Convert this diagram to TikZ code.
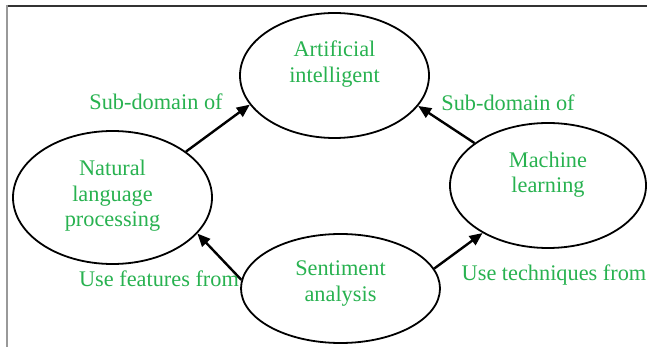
\documentclass[tikz,border=0pt]{standalone}
\usepackage{fontspec}
\setmainfont{Liberation Serif}
\usetikzlibrary{shapes.geometric,arrows.meta}
\definecolor{lbl}{RGB}{40,178,80}
\begin{document}
\begin{tikzpicture}[x=1pt,y=-1pt,
  oval/.style={draw=black,line width=1.8pt,ellipse,inner sep=0pt},
  txt/.style={text=lbl,font=\fontsize{22.3}{25.5}\selectfont,align=center,inner sep=0pt},
  arr/.style={line width=2.4pt,-{Triangle[length=13pt,width=11pt]}}]
\useasboundingbox (0,0) rectangle (647,347);
\fill[white] (0,0) rectangle (647,347);
\draw[line width=1.2pt,black!80] (6,6) -- (647,6);
\draw[line width=2pt,black!40] (7,5) -- (7,347);
% ellipses
\node[oval,minimum width=189pt,minimum height=125pt] (ai) at (334.5,75.5) {};
\node[oval,minimum width=199pt,minimum height=133pt] (nlp) at (112.5,197.5) {};
\node[oval,minimum width=196pt,minimum height=125pt] (ml) at (548,185.5) {};
\node[oval,minimum width=199pt,minimum height=109pt] (sa) at (340.5,288.5) {};
% texts
\node[txt] (ait) at (334.5,64) {Artificial\\intelligent};
\node[txt] (nlpt) at (112.5,196) {Natural\\language\\processing};
\node[txt] (mlt) at (548,174.5) {Machine\\learning};
\node[txt] (sat) at (340.5,283.5) {Sentiment\\analysis};
% labels
\node[txt] (l1) at (156,102) {Sub-domain of};
\node[txt] (l2) at (508,103) {Sub-domain of};
\node[txt] (l3) at (159,279) {Use features from};
\node[txt] (l4) at (554,275) {Use techniques from};
% arrows
\draw[arr] (nlp.32.5) -- (ai.199.2);
\draw[arr] (ml.150.1) -- (ai.340.2);
\draw[arr] (sa.175) -- (nlp.337);
\draw[arr] (sa.12.5) -- (ml.216.6);
\end{tikzpicture}
\end{document}
